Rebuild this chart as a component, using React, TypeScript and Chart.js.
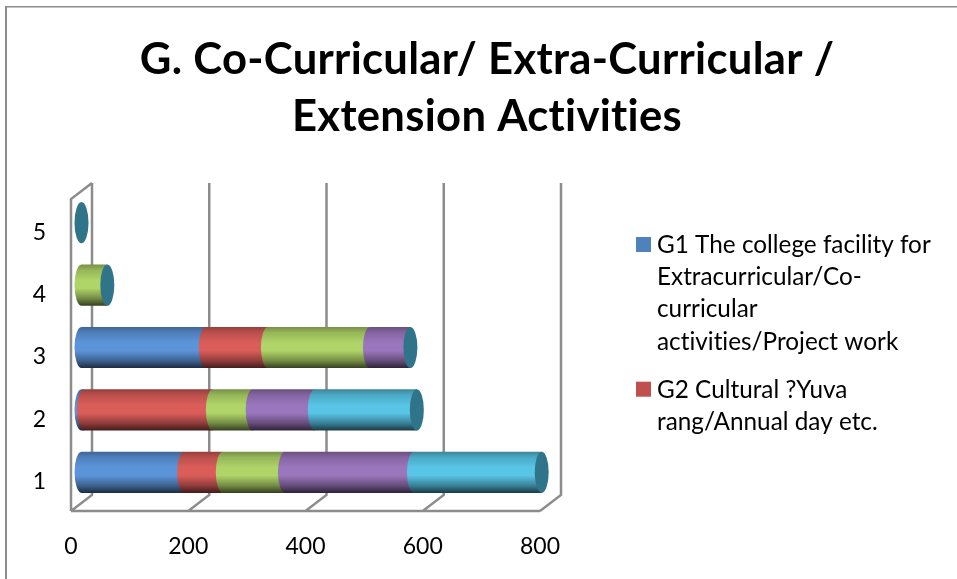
import React, { useEffect, useRef } from "react";
import { Chart, registerables } from "chart.js";

Chart.register(...registerables);

const categories = ["1", "2", "3", "4", "5"];
const g1Values = [175, 4, 212, 0, 0];
const g2Values = [66, 220, 106, 0, 0];
const g3Values = [106, 68, 174, 44, 0];
const g4Values = [220, 106, 69, 0, 0];
const g5Values = [218, 174, 0, 0, 0];
const seriesLabels = [
  "G1 The college facility for Extracurricular/Co-curricular activities/Project work",
  "G2 Cultural ?Yuva rang/Annual day etc.",
  "G3",
  "G4",
  "G5",
];
const seriesValues = [g1Values, g2Values, g3Values, g4Values, g5Values];
const seriesColors = ["#5C94DA", "#DA5D5A", "#AFD468", "#9A76BC", "#58C4E6"];
const legendSwatches = ["#4F81BD", "#C0504D"];
const legendLines = [
  ["G1 The college facility for", "Extracurricular/Co-", "curricular", "activities/Project work"],
  ["G2 Cultural ?Yuva", "rang/Annual day etc."],
];
const titleLines = ["G. Co-Curricular/ Extra-Curricular /", "Extension Activities"];
const FONT = "Lato, Carlito, sans-serif";

const shade = (hex: string, f: number) => {
  const n = parseInt(hex.slice(1), 16);
  const c = [(n >> 16) & 255, (n >> 8) & 255, n & 255].map((v) => Math.round(v * f));
  return `rgb(${c[0]},${c[1]},${c[2]})`;
};

const depthPlugin = {
  id: "depth",
  afterLayout(chart: any) {
    // Title sits slightly right of the canvas centre in the reference
    const tb = chart.titleBlock;
    if (tb) {
      tb.left = 17;
      tb.right = 957;
      if (!tb.__spaced) {
        const orig = tb.draw;
        tb.draw = function (...args: any[]) {
          const c = chart.ctx;
          c.save();
          c.letterSpacing = "0.3px";
          orig.apply(this, args);
          c.restore();
        };
        tb.__spaced = true;
      }
    }
  },
  beforeDatasetsDraw(chart: any) {
    const { ctx, chartArea, scales } = chart;
    const dx = 21;
    const dy = -16;
    const xs = scales.x;
    const bottom = chartArea.bottom;
    const top = chartArea.top;

    // Walls and gridlines
    ctx.save();
    ctx.strokeStyle = "#8C8C8C";
    ctx.lineWidth = 2.5;
    ctx.lineJoin = "miter";
    ctx.beginPath();
    xs.ticks.forEach((t: any) => {
      const x = xs.getPixelForValue(t.value);
      ctx.moveTo(x, bottom);
      ctx.lineTo(x + dx, bottom + dy);
      ctx.lineTo(x + dx, top + dy);
    });
    const x0 = xs.getPixelForValue(0);
    ctx.moveTo(x0, bottom);
    ctx.lineTo(x0, top);
    ctx.lineTo(x0 + dx, top + dy);
    ctx.moveTo(x0, bottom);
    ctx.lineTo(xs.getPixelForValue(800), bottom);
    ctx.stroke();
    ctx.restore();

    // Cylinders, at mid depth of the plot box
    const rx = 7;
    const capColor = "#30748A";
    categories.forEach((_, j) => {
      let end = 0;
      let cy = 0;
      let ry = 0;
      seriesValues.forEach((_v, i) => {
        const el = chart.getDatasetMeta(i).data[j];
        const x1 = el.x + dx / 2;
        const x2 = el.base + dx / 2;
        const y = el.y + dy / 2 + 0.5;
        const h = el.height;
        ry = h / 2;
        cy = y;
        end = Math.max(end, x1);
        if (x1 - x2 < 0.5) return;
        const g = ctx.createLinearGradient(0, y - ry, 0, y + ry);
        const base = seriesColors[i];
        g.addColorStop(0, shade(base, 0.68));
        g.addColorStop(0.14, shade(base, 0.86));
        g.addColorStop(0.38, shade(base, 1));
        g.addColorStop(0.58, shade(base, 1));
        g.addColorStop(0.82, shade(base, 0.66));
        g.addColorStop(1, shade(base, 0.3));
        ctx.fillStyle = g;
        ctx.beginPath();
        ctx.moveTo(x1, y - ry);
        ctx.lineTo(x2, y - ry);
        ctx.ellipse(x2, y, rx, ry, 0, -Math.PI / 2, Math.PI / 2, true);
        ctx.lineTo(x1, y + ry);
        ctx.closePath();
        ctx.fill();
      });
      ctx.fillStyle = capColor;
      ctx.beginPath();
      ctx.ellipse(end, cy, rx, ry, 0, 0, Math.PI * 2);
      ctx.fill();
    });
    return false;
  },
  afterDraw(chart: any) {
    const { ctx, width, height } = chart;
    ctx.save();
    // Outer chart frame: only its left and top edges are inside the picture
    ctx.fillStyle = "#8C8C8C";
    ctx.fillRect(5, 6, 2, height - 6);
    ctx.fillRect(5, 6, width - 5, 1.5);
    // Legend (the original is cut short after two entries)
    ctx.font = `24.3px ${FONT}`;
    (ctx as any).letterSpacing = "0.01px";
    ctx.textBaseline = "middle";
    ctx.textAlign = "left";
    let y = 245;
    legendLines.forEach((lines, i) => {
      ctx.fillStyle = legendSwatches[i];
      ctx.fillRect(636, y - 8, 15, 15);
      ctx.fillStyle = "#000000";
      lines.forEach((line) => {
        ctx.fillText(line, 657, y);
        y += 32.3;
      });
      y += 15.5;
    });
    ctx.restore();
  },
};

export default function App() {
  const ref = useRef<HTMLCanvasElement>(null);
  useEffect(() => {
    const chart = new Chart(ref.current as HTMLCanvasElement, {
      type: "bar",
      data: {
        labels: categories,
        datasets: seriesValues.map((data, i) => ({
          label: seriesLabels[i],
          data,
          backgroundColor: seriesColors[i],
          barPercentage: 0.66,
          categoryPercentage: 1,
        })),
      },
      options: {
        indexAxis: "y",
        responsive: false,
        animation: false,
        layout: { padding: { left: 0, right: 417, top: 0, bottom: 0 } },
        plugins: {
          legend: { display: false },
          tooltip: { enabled: false },
          title: {
            display: true,
            text: titleLines,
            color: "#000000",
            font: { family: FONT, size: 43.6, weight: "bold", lineHeight: 57 / 43.6 },
            padding: { top: 31, bottom: 54 },
          },
        },
        scales: {
          x: {
            stacked: true,
            min: 0,
            max: 800,
            border: { display: false },
            grid: { display: false, drawTicks: false },
            afterFit: (s: any) => { s.height = 68; },
            ticks: {
              stepSize: 200,
              padding: 22,
              maxRotation: 0,
              color: "#000000",
              font: { family: FONT, size: 23 },
            },
          },
          y: {
            stacked: true,
            reverse: true,
            border: { display: false },
            grid: { display: false, drawTicks: false },
            afterFit: (s: any) => { s.width = 71; },
            ticks: {
              padding: 25,
              labelOffset: 2,
              color: "#000000",
              font: { family: FONT, size: 23 },
            },
          },
        },
      } as any,
      plugins: [depthPlugin],
    });
    return () => chart.destroy();
  }, []);
  return (
    <div style={{ position: "absolute", left: 0, top: 0, width: 957, height: 579, overflow: "hidden", background: "#fff" }}>
      <canvas ref={ref} width={957} height={579} style={{ display: "block" }} />
    </div>
  );
}
